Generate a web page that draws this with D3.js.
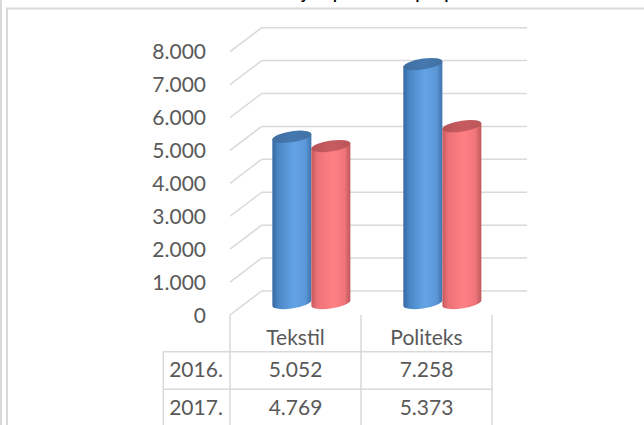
<!DOCTYPE html>
<html>
<head>
<meta charset="utf-8">
<script src="https://cdn.jsdelivr.net/npm/d3@7"></script>
<style>
  body { margin: 0; background: #fff; }
  svg { display: block; font-family: Lato, "Open Sans", sans-serif; }
</style>
</head>
<body>
<div id="wrapper"></div>
<script>
// Data
const categories = ["Tekstil", "Politeks"];
const years = ["2016.", "2017."];
const values2016 = [5052, 7258];
const values2017 = [4769, 5373];
const yTicks = [0, 1000, 2000, 3000, 4000, 5000, 6000, 7000, 8000];

const seriesValues = [values2016, values2017];
const colors = {
  "2016.": { stops: ["#3467a0", "#4a86c5", "#63a3e5", "#5b97d7", "#3e73ad"], top: "#4679b0" },
  "2017.": { stops: ["#c65a5f", "#ec7277", "#ff8085", "#ef757a", "#bd575b"], top: "#c85c60" }
};

const W = 644, H = 425;
const svg = d3.select("#wrapper").append("svg")
  .attr("width", W).attr("height", H);

// number format 5.052
const fmt = d3.formatLocale({ decimal: ",", thousands: ".", grouping: [3], currency: ["", ""] }).format(",d");

// depth offset of the 3d box (front -> back wall)
const depthX = 31.7, depthY = -24;

// Scales
const y = d3.scaleLinear().domain([0, 8000]).range([315, 51.7]);
const x0 = d3.scaleBand().domain(categories).range([230, 492]);
const pairW = 78;
const x1 = d3.scaleBand().domain(years)
  .range([(x0.bandwidth() - pairW) / 2, (x0.bandwidth() + pairW) / 2]);

const grid = "#d9d9d9";

// outer frames
svg.append("line").attr("x1", 1).attr("x2", 1).attr("y1", 0).attr("y2", H)
  .attr("stroke", grid).attr("stroke-width", 2);
svg.append("path").attr("d", `M7,${H} V8.5 H${W}`)
  .attr("fill", "none").attr("stroke", grid).attr("stroke-width", 2);

// title (cut off at the top)
svg.append("text").attr("x", 412).attr("y", -2)
  .attr("text-anchor", "middle").attr("font-size", 21).attr("fill", "#000")
  .text("Broj zaposlenih po poduzećima");

// back wall gridlines + floor/side diagonals
const gl = svg.append("g");
gl.selectAll("line.back").data(yTicks).join("line")
  .attr("x1", x0.range()[0] + depthX).attr("x2", 527)
  .attr("y1", d => y(d) + depthY).attr("y2", d => y(d) + depthY)
  .attr("stroke", grid).attr("stroke-width", 1.5);
gl.selectAll("line.diag").data(yTicks).join("line")
  .attr("x1", x0.range()[0]).attr("x2", x0.range()[0] + depthX)
  .attr("y1", d => y(d)).attr("y2", d => y(d) + depthY)
  .attr("stroke", grid).attr("stroke-width", 1.5);

// y labels
svg.append("g").selectAll("text").data(yTicks).join("text")
  .attr("x", 206).attr("y", d => y(d)).attr("dy", "0.36em")
  .attr("text-anchor", "end").attr("font-size", 21).attr("fill", "#595959")
  .text(d => fmt(d));

// gradients
const defs = svg.append("defs");
years.forEach((yr, i) => {
  const g = defs.append("linearGradient").attr("id", "grad" + i)
    .attr("x1", "0").attr("x2", "1").attr("y1", "0").attr("y2", "0");
  const offs = [0, 0.15, 0.55, 0.85, 1];
  colors[yr].stops.forEach((c, k) => g.append("stop").attr("offset", offs[k]).attr("stop-color", c));
  const t = defs.append("linearGradient").attr("id", "top" + i)
    .attr("x1", "0").attr("x2", "1").attr("y1", "0").attr("y2", "0");
  t.append("stop").attr("offset", 0).attr("stop-color", d3.color(colors[yr].top).darker(0.3));
  t.append("stop").attr("offset", 0.5).attr("stop-color", colors[yr].top);
  t.append("stop").attr("offset", 1).attr("stop-color", d3.color(colors[yr].top).darker(0.2));
});

// cylinders
const rx = 19.5, ry = 5.5, tilt = -8;
const bars = [];
categories.forEach((cat, ci) => {
  years.forEach((yr, si) => {
    bars.push({ cat, yr, si, v: seriesValues[si][ci] });
  });
});

const cyl = svg.append("g").selectAll("g").data(bars).join("g")
  .attr("transform", d => {
    const cx = x0(d.cat) + x1(d.yr) + x1.bandwidth() / 2 + depthX / 2;
    const cy = y(0) + depthY / 2;
    return `translate(${cx},${cy}) skewY(${tilt})`;
  });

cyl.append("path")
  .attr("d", d => {
    const h = y(0) - y(d.v);
    return `M${-rx},${-h} L${-rx},0 A${rx},${ry} 0 0 0 ${rx},0 L${rx},${-h} Z`;
  })
  .attr("fill", d => `url(#grad${d.si})`);

cyl.append("ellipse")
  .attr("cx", 0).attr("cy", d => -(y(0) - y(d.v)))
  .attr("rx", rx).attr("ry", ry)
  .attr("fill", d => `url(#top${d.si})`);

// data table
const tbl = svg.append("g").attr("stroke", grid).attr("stroke-width", 1.5);
const colEdges = [x0.range()[0], ...categories.map(c => x0(c) + x0.bandwidth())];
tbl.selectAll("line.v").data(colEdges).join("line")
  .attr("x1", d => d).attr("x2", d => d).attr("y1", y(0)).attr("y2", H);
const rowTop = 351.7, rowH = 37.6;
tbl.append("line").attr("x1", 163.3).attr("x2", 163.3).attr("y1", rowTop).attr("y2", H);
tbl.selectAll("line.h").data([rowTop, rowTop + rowH]).join("line")
  .attr("x1", 163.3).attr("x2", x0.range()[1]).attr("y1", d => d).attr("y2", d => d);

const txt = svg.append("g").attr("font-size", 21).attr("fill", "#595959").attr("text-anchor", "middle");
txt.selectAll("text.cat").data(categories).join("text")
  .attr("x", d => x0(d) + x0.bandwidth() / 2).attr("y", 345).text(d => d);
years.forEach((yr, si) => {
  const by = 377 + si * rowH;
  txt.append("text").attr("x", 196).attr("y", by).text(yr);
  txt.selectAll(null).data(categories).join("text")
    .attr("x", d => x0(d) + x0.bandwidth() / 2).attr("y", by)
    .text((d, ci) => fmt(seriesValues[si][ci]));
});
</script>
</body>
</html>
